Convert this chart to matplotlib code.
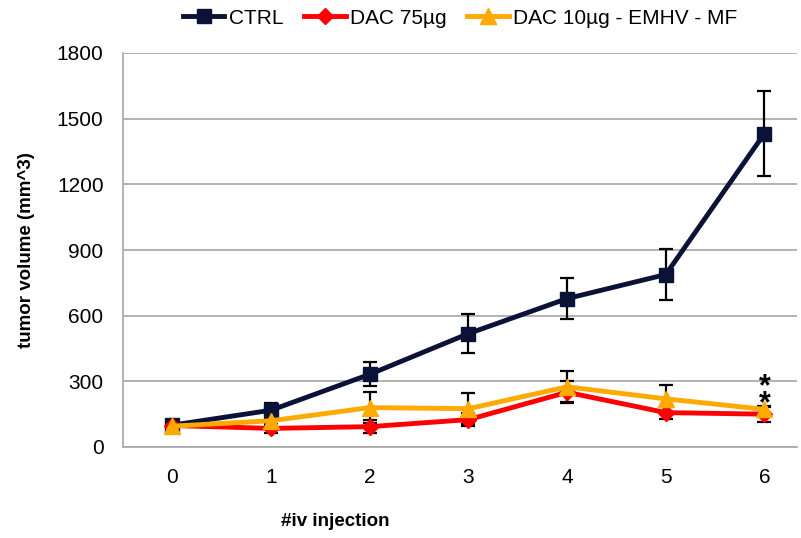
import matplotlib
matplotlib.use("Agg")
import matplotlib.pyplot as plt

plt.rcParams['font.family'] = ['Liberation Sans', 'DejaVu Sans']

injections = [0, 1, 2, 3, 4, 5, 6]

ctrl = [100, 168, 332, 518, 678, 788, 1432]
ctrl_err = [8, 35, 55, 88, 95, 118, 195]

dac75 = [98, 85, 93, 125, 250, 157, 150]
dac75_err = [8, 20, 30, 30, 50, 28, 35]

emhv = [95, 120, 180, 175, 275, 220, 172]
emhv_err = [8, 25, 70, 70, 70, 65, 15]

series = [
    ("CTRL", ctrl, ctrl_err, "#0b1238", "s", 10),
    ("DAC 75µg", dac75, dac75_err, "#ff0000", "D", 8),
    ("DAC 10µg - EMHV - MF", emhv, emhv_err, "#ffaa00", "^", 12),
]

fig = plt.figure(figsize=(8.01, 5.38), dpi=100)
ax = fig.add_axes([123 / 801, 1 - 447 / 538, (797 - 123) / 801, (447 - 53) / 538])

for name, vals, errs, color, marker, ms in series:
    ax.errorbar(injections, vals, yerr=errs, fmt="none", ecolor="black",
                elinewidth=1.6, capsize=5, capthick=1.6, zorder=2)
for name, vals, errs, color, marker, ms in series:
    ax.plot(injections, vals, color=color, lw=3.5, marker=marker, ms=ms,
            label=name, zorder=3)

# significance marks over the last time point
ax.annotate("*\n*", xy=(6, emhv[-1]), xytext=(0, -7), textcoords="offset points",
            ha="center", va="bottom", fontsize=22, fontweight="bold",
            linespacing=0.42, zorder=5)

ax.set_xlim(-0.5, 6.33)
ax.set_ylim(0, 1800)
ax.set_yticks(range(0, 1801, 300))
ax.set_xticks(injections)
ax.yaxis.grid(True, color="#a6a6a6", lw=1.2)
ax.set_axisbelow(True)
for s in ["top", "right"]:
    ax.spines[s].set_visible(False)
for s in ["left", "bottom"]:
    ax.spines[s].set_color("#a6a6a6")
    ax.spines[s].set_linewidth(1.2)
ax.tick_params(length=0, labelsize=15, pad=14)
ax.tick_params(axis="x", pad=15)

ax.set_ylabel("tumor volume (mm^3)", fontsize=13.5, fontweight="bold", labelpad=16)
fig.text(335 / 801, 1 - 522 / 538, "#iv injection", fontsize=13.5,
         fontweight="bold", ha="center", va="center")

ax.legend(loc="upper center", bbox_to_anchor=(0.5, 1.16), ncol=3, frameon=False,
          fontsize=15, handlelength=2.0, handletextpad=0.2, columnspacing=1.0)

fig.savefig("out.png", dpi=100)
